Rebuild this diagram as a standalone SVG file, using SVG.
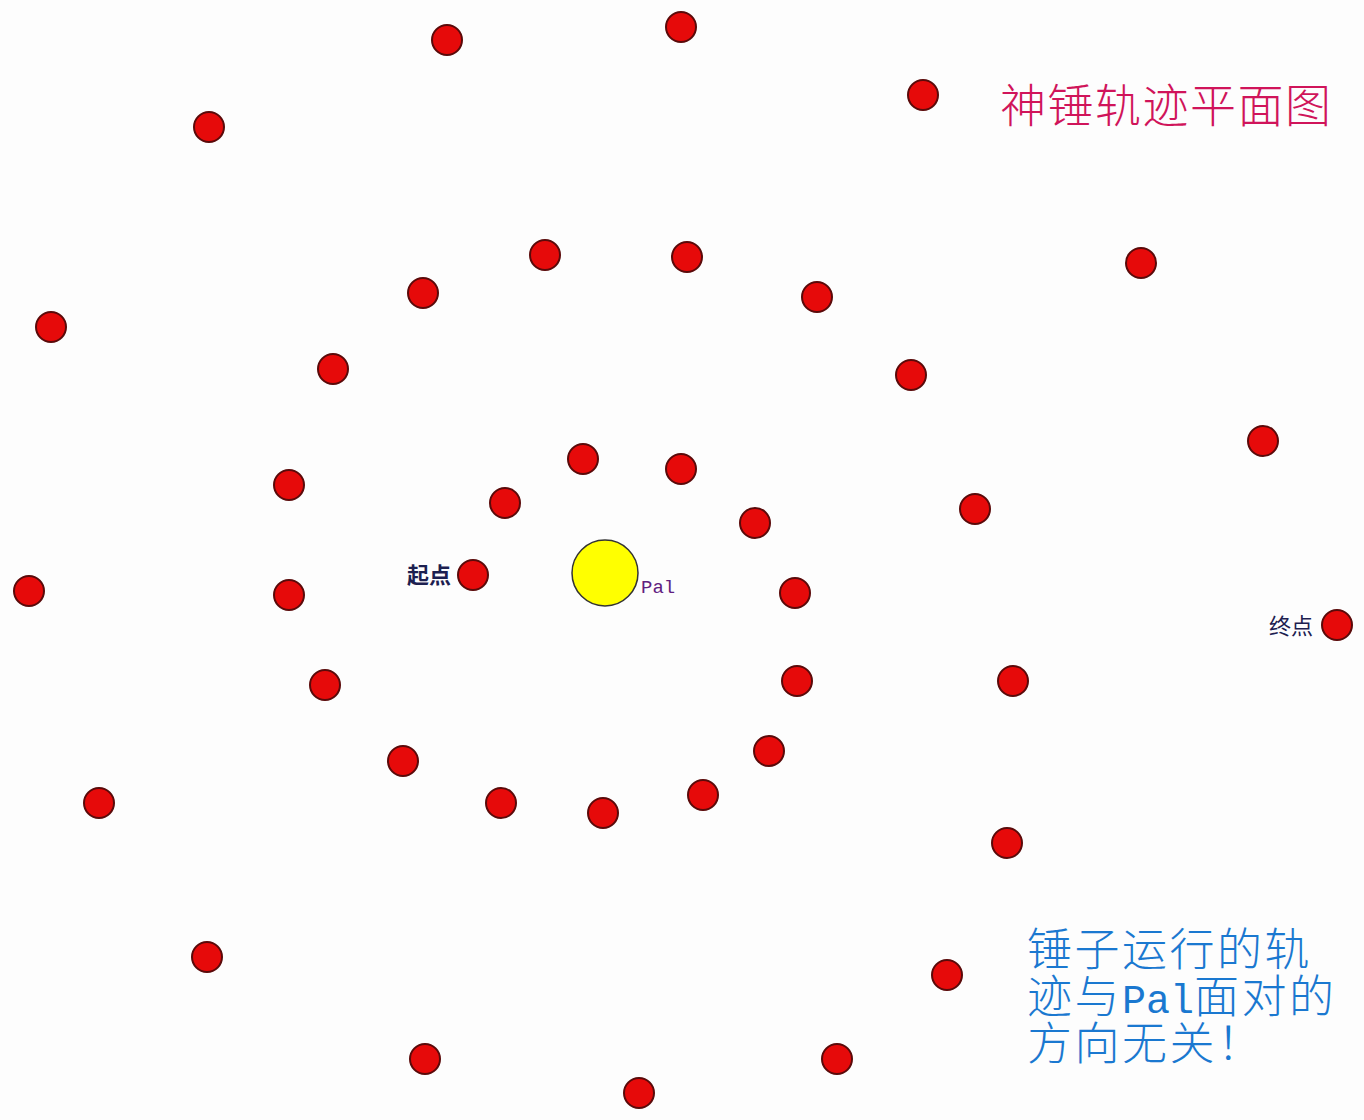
<svg xmlns="http://www.w3.org/2000/svg" width="1364" height="1120" viewBox="0 0 1364 1120">
<style>
.d{fill:#e60a0a;stroke:#5a0a0a;stroke-width:2}
.cjk{font-family:"Noto Sans CJK SC","Noto Sans",sans-serif}
</style>
<rect width="1364" height="1120" fill="#fdfdfd"/>
<g id="connectors"></g>
<g id="dots">
<circle class="d" cx="447" cy="40" r="15"/>
<circle class="d" cx="681" cy="27" r="15"/>
<circle class="d" cx="923" cy="95" r="15"/>
<circle class="d" cx="209" cy="127" r="15"/>
<circle class="d" cx="545" cy="255" r="15"/>
<circle class="d" cx="687" cy="257" r="15"/>
<circle class="d" cx="1141" cy="263" r="15"/>
<circle class="d" cx="423" cy="293" r="15"/>
<circle class="d" cx="817" cy="297" r="15"/>
<circle class="d" cx="51" cy="327" r="15"/>
<circle class="d" cx="333" cy="369" r="15"/>
<circle class="d" cx="911" cy="375" r="15"/>
<circle class="d" cx="1263" cy="441" r="15"/>
<circle class="d" cx="583" cy="459" r="15"/>
<circle class="d" cx="681" cy="469" r="15"/>
<circle class="d" cx="289" cy="485" r="15"/>
<circle class="d" cx="505" cy="503" r="15"/>
<circle class="d" cx="975" cy="509" r="15"/>
<circle class="d" cx="755" cy="523" r="15"/>
<circle class="d" cx="29" cy="591" r="15"/>
<circle class="d" cx="289" cy="595" r="15"/>
<circle class="d" cx="795" cy="593" r="15"/>
<circle class="d" cx="325" cy="685" r="15"/>
<circle class="d" cx="797" cy="681" r="15"/>
<circle class="d" cx="1013" cy="681" r="15"/>
<circle class="d" cx="403" cy="761" r="15"/>
<circle class="d" cx="769" cy="751" r="15"/>
<circle class="d" cx="99" cy="803" r="15"/>
<circle class="d" cx="501" cy="803" r="15"/>
<circle class="d" cx="603" cy="813" r="15"/>
<circle class="d" cx="703" cy="795" r="15"/>
<circle class="d" cx="1007" cy="843" r="15"/>
<circle class="d" cx="207" cy="957" r="15"/>
<circle class="d" cx="947" cy="975" r="15"/>
<circle class="d" cx="425" cy="1059" r="15"/>
<circle class="d" cx="837" cy="1059" r="15"/>
<circle class="d" cx="639" cy="1093" r="15"/>
</g>
<g id="start">
<circle class="d" cx="473" cy="575" r="15"/>
<text x="407" y="583" class="cjk" font-size="22" font-weight="bold" fill="#1c2050">起点</text>
</g>
<g id="end">
<circle class="d" cx="1337" cy="625" r="15"/>
<text x="1269" y="634" class="cjk" font-size="22" fill="#1c2050">终点</text>
</g>
<g id="pal">
<circle cx="605" cy="573" r="33" fill="#ffff00" stroke="#333" stroke-width="1.5"/>
<text x="641" y="593" font-family="Liberation Mono,monospace" font-size="19" fill="#602080">Pal</text>
</g>
<g id="title">
<text x="1000" y="122" class="cjk" font-size="46" font-weight="300" letter-spacing="1.5" fill="#d0145a">神锤轨迹平面图</text>
</g>
<g id="note" class="cjk" font-size="45" font-weight="300" fill="#1a78d0" letter-spacing="2.5">
<text x="1027" y="966">锤子运行的轨</text>
<text x="1027" y="1013">迹与<tspan font-family="Liberation Mono,monospace" font-weight="normal" font-size="40" letter-spacing="0">Pal</tspan>面对的</text>
<text x="1027" y="1060">方向无关！</text>
</g>
</svg>
